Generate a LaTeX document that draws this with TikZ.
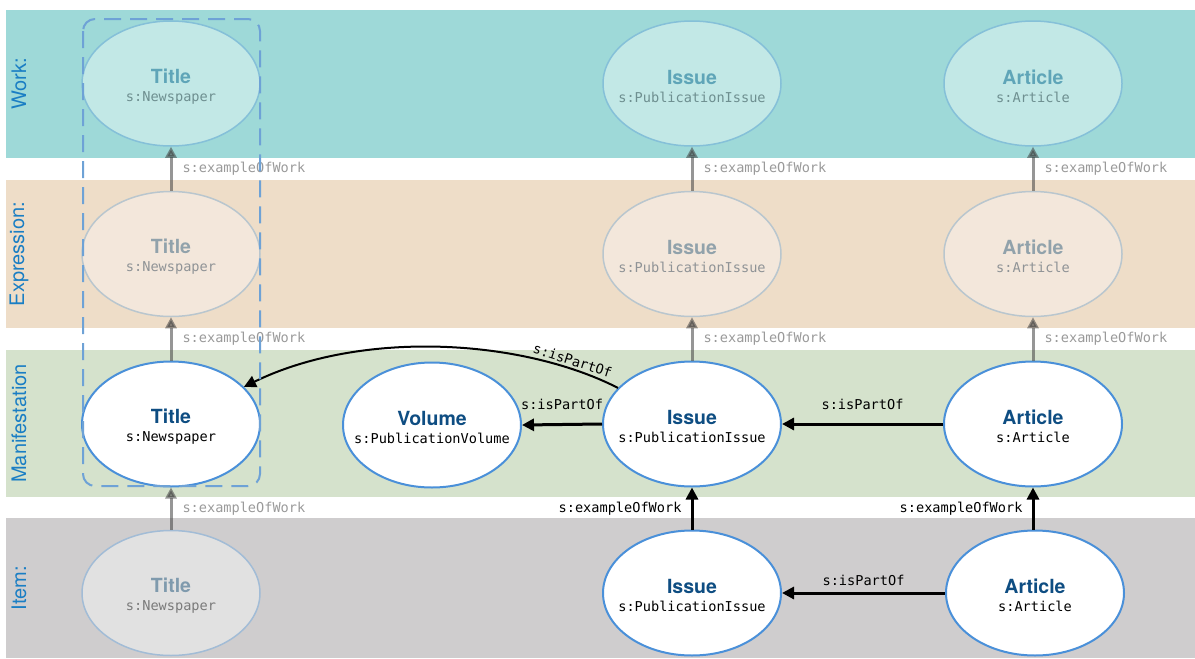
\documentclass[tikz,border=0pt]{standalone}
\usepackage{fontspec}
\setmainfont{TeX Gyre Heros}
\setmonofont{DejaVu Sans Mono}
\usetikzlibrary{shapes.geometric,arrows.meta}

% Farben
\definecolor{workband}{HTML}{9ED9D8}
\definecolor{exprband}{HTML}{EEDDC8}
\definecolor{manband}{HTML}{D5E2CC}
\definecolor{itemband}{HTML}{CFCDCE}
\definecolor{workfill}{HTML}{C2E8E6}
\definecolor{workline}{HTML}{85C0D8}
\definecolor{workhd}{HTML}{5FA5B8}
\definecolor{worksub}{HTML}{6E8F90}
\definecolor{exprfill}{HTML}{F3E7DB}
\definecolor{exprline}{HTML}{B9C6CE}
\definecolor{exprhd}{HTML}{91A2AB}
\definecolor{exprsub}{HTML}{8F9396}
\definecolor{ghostfill}{HTML}{E1E1E1}
\definecolor{ghostline}{HTML}{A2BCD6}
\definecolor{ghosthd}{HTML}{7F9AAD}
\definecolor{ghostsub}{HTML}{7A7A7A}
\definecolor{manline}{HTML}{4A90D9}
\definecolor{manhd}{HTML}{0E4D82}
\definecolor{bandtxt}{HTML}{1A7EC4}
\definecolor{labgray}{HTML}{9A9A9A}
\definecolor{boxdash}{HTML}{6EA2D6}

\newcommand\mono{\fontsize{13.6}{18}\selectfont\ttfamily}
\newcommand\ent[2]{{\fontsize{19.5}{18}\selectfont\rmfamily\bfseries\color{hd}\rule{0pt}{20pt}#1}\\{\color{sub}#2}}

\tikzset{
  frbr/.style={ellipse, minimum width=178pt, minimum height=125pt, inner xsep=-22pt,
    inner ysep=0pt, line width=1.5pt, align=center, font=\mono},
  work/.style={frbr, fill=workfill, draw=workline,
    execute at begin node={\colorlet{hd}{workhd}\colorlet{sub}{worksub}}},
  expr/.style={frbr, fill=exprfill, draw=exprline,
    execute at begin node={\colorlet{hd}{exprhd}\colorlet{sub}{exprsub}}},
  ghost/.style={frbr, fill=ghostfill, draw=ghostline,
    execute at begin node={\colorlet{hd}{ghosthd}\colorlet{sub}{ghostsub}}},
  manif/.style={frbr, fill=white, draw=manline, line width=2pt,
    execute at begin node={\colorlet{hd}{manhd}\colorlet{sub}{black}}},
  ofwork/.style={-{Triangle[length=11pt,width=11pt]}, line width=3pt, black!75, opacity=.55},
  partof/.style={-{Triangle[length=12pt,width=12pt]}, line width=3pt, black},
  glbl/.style={font=\mono, text=labgray, text opacity=1, inner sep=2pt},
  blbl/.style={font=\mono, text=black, inner sep=1pt},
  bandlbl/.style={rotate=90, text=bandtxt, font=\fontsize{20}{22}\selectfont},
  dashbox/.style={draw=boxdash, line width=2pt, dash pattern=on 17pt off 9pt, rounded corners=12pt}
}

\begin{document}
\begin{tikzpicture}[x=1pt,y=-1pt]
\useasboundingbox (0,0) rectangle (1195,659);

% Ebenen
\foreach \top/\bot/\col/\name in {10/158/workband/Work:, 180/328/exprband/Expression:,
    350/497/manband/Manifestation, 518/658/itemband/Item:} {
  \fill[\col] (6,\top) rectangle (1195,\bot);
  \node[bandlbl] (lbl\col) at (19,{(\top+\bot)/2}) {\name};
}

% Work
\node[work] (tW) at (171,83.5) {\ent{Title}{s:Newspaper}};
\node[work] (iW) at (692,83.5) {\ent{Issue}{s:PublicationIssue}};
\node[work] (aW) at (1033,83.5) {\ent{Article}{s:Article}};

% Expression
\node[expr] (tE) at (171,254) {\ent{Title}{s:Newspaper}};
\node[expr] (iE) at (692,254) {\ent{Issue}{s:PublicationIssue}};
\node[expr] (aE) at (1033,254) {\ent{Article}{s:Article}};

% Manifestation
\node[manif] (tM) at (171,424) {\ent{Title}{s:Newspaper}};
\node[manif] (vM) at (432,425) {\ent{Volume}{s:PublicationVolume}};
\node[manif] (iM) at (692,424) {\ent{Issue}{s:PublicationIssue}};
\node[manif] (aM) at (1033,424) {\ent{Article}{s:Article}};

% Item
\node[ghost] (tI) at (171,593) {\ent{Title}{s:Newspaper}};
\node[manif] (iI) at (692,593) {\ent{Issue}{s:PublicationIssue}};
\node[manif] (aI) at (1035,593) {\ent{Article}{s:Article}};

% exampleOfWork (grau)
\foreach \a/\b in {tE/tW, iE/iW, aE/aW, tM/tE, iM/iE, aM/aE, tI/tM} {
  \draw[ofwork] (\a.north) -- (\b.south) node[midway, right=8pt, glbl] {s:exampleOfWork};
}

% exampleOfWork (schwarz)
\draw[partof] (iI.north) -- (iM.south) node[midway, left=8pt, blbl] {s:exampleOfWork};
\draw[partof] (aI.north -| aM.south) -- (aM.south) node[midway, left=8pt, blbl] {s:exampleOfWork};

% isPartOf
\draw[partof] (aM.west) -- (iM.east) node[midway, above=12pt, blbl] {s:isPartOf};
\draw[partof] (iM.west) -- (vM.east) node[midway, above=12pt, blbl] {s:isPartOf};
\draw[partof] (aI.west) -- (iI.east) node[midway, above=5pt, blbl] {s:isPartOf};
\draw[partof, line width=2pt] (iM.154) .. controls (520,338) and (360,330) .. (tM.27)
  node[pos=.15, sloped, above=1pt, blbl] {s:isPartOf};

% Rahmen um Title
\draw[dashbox] (83,19) rectangle (260,486);
\end{tikzpicture}
\end{document}
